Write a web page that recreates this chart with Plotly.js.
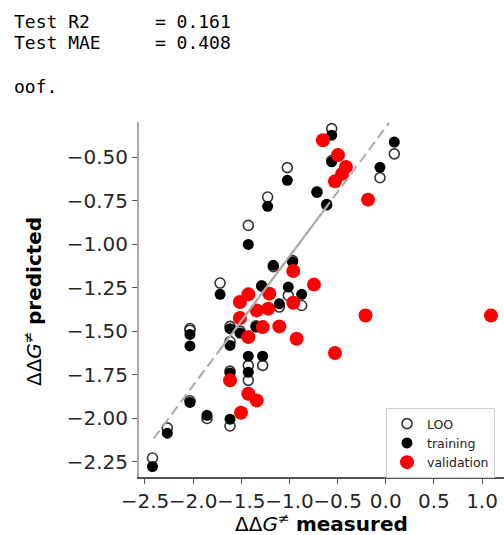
<!DOCTYPE html>
<html>
<head>
<meta charset="utf-8">
<script src="https://cdn.plot.ly/plotly-3.0.1.min.js"></script>
<style>html,body{margin:0;padding:0;background:#fff;}#chart{width:504px;height:535px;}</style>
</head>
<body>
<div id="chart"></div>
<script>
// LOO / training pairs share the measured value
const trainX = [-2.422,-2.268,-2.033,-1.856,-2.033,-2.033,-1.72,-1.617,-1.617,-1.513,-1.617,-1.617,-1.427,-1.226,-1.022,-1.168,-0.967,-1.288,-1.012,-0.873,-1.105,-1.347,-1.427,-1.278,-1.427,-0.561,-0.561,-0.714,-0.613,-0.060,0.089];
const trainY = [-2.278,-2.086,-1.910,-1.984,-1.519,-1.585,-1.289,-1.486,-1.582,-1.511,-1.740,-2.006,-1.002,-0.783,-0.634,-1.122,-1.103,-1.241,-1.247,-1.289,-1.343,-1.477,-1.644,-1.644,-1.736,-0.375,-0.528,-0.703,-0.772,-0.559,-0.414];
const looY   = [-2.229,-2.056,-1.900,-2.002,-1.485,-1.495,-1.224,-1.473,-1.560,-1.500,-1.730,-2.045,-0.893,-0.730,-0.561,-1.130,-1.095,-1.240,-1.295,-1.353,-1.362,-1.470,-1.697,-1.697,-1.783,-0.337,-0.520,-0.700,-0.775,-0.619,-0.482];
const validX = [-0.652,-0.496,-0.413,-0.454,-0.527,-0.184,-0.960,-0.745,-1.427,-1.209,-1.514,-0.960,-1.220,-1.340,-1.514,-1.278,-1.105,-1.427,-0.925,-0.210,1.093,-0.527,-1.617,-1.427,-1.340,-1.503];
const validY = [-0.404,-0.489,-0.557,-0.597,-0.640,-0.745,-1.155,-1.233,-1.289,-1.285,-1.333,-1.337,-1.371,-1.381,-1.425,-1.477,-1.473,-1.534,-1.544,-1.410,-1.410,-1.626,-1.783,-1.860,-1.898,-1.969];
const fitX = [-2.41, 0.034];
const fitY = [-2.117, -0.305];
const fitSolidX = [-1.72, -0.61];
const fitSolidY = [-1.605, -0.782];
const xTicks = [-2.5,-2.0,-1.5,-1.0,-0.5,0.0,0.5,1.0];
const xTickText = ['\u22122.5','\u22122.0','\u22121.5','\u22121.0','\u22120.5','0.0','0.5','1.0'];
const yTicks = [-2.25,-2.0,-1.75,-1.5,-1.25,-1.0,-0.75,-0.5];
const yTickText = ['\u22122.25','\u22122.00','\u22121.75','\u22121.50','\u22121.25','\u22121.00','\u22120.75','\u22120.50'];
const statsLines = ['Test R2      = 0.161', 'Test MAE     = 0.408', 'oof.'];
const xTitle = '\u0394\u0394<i>G</i><sup>\u2260</sup> <b>measured</b>';
const yTitle = '\u0394\u0394<i>G</i><sup>\u2260</sup> <b>predicted</b>';

const traces = [
  {x: trainX, y: looY, name: 'LOO', type: 'scatter', mode: 'markers',
   marker: {symbol: 'circle-open', size: 10, color: '#333', line: {width: 1.6, color: '#333'}}},
  {x: trainX, y: trainY, name: 'training', type: 'scatter', mode: 'markers',
   marker: {symbol: 'circle', size: 11, color: '#000'}},
  {x: validX, y: validY, name: 'validation', type: 'scatter', mode: 'markers',
   marker: {symbol: 'circle', size: 14, color: '#ff0000'}},
  {x: fitX, y: fitY, type: 'scatter', mode: 'lines', showlegend: false, hoverinfo: 'skip',
   line: {color: '#aaaaaa', width: 2, dash: '10px,5px'}},
  {x: fitSolidX, y: fitSolidY, type: 'scatter', mode: 'lines', showlegend: false, hoverinfo: 'skip',
   line: {color: '#aaaaaa', width: 2}}
];

const L = 139, T = 122, W = 504, H = 535, B = 58;
const pw = W - L, ph = H - T - B;
function px2paperX(p){ return (p - L) / pw; }
function py2paperY(p){ return (H - B - p) / ph; }
const mono = {family: 'DejaVu Sans Mono, monospace', size: 18, color: '#000'};
const statY = [21.5, 42, 87];
const annotations = statsLines.map((t, i) => ({
  text: t.replace(/ /g, '\u00a0'), xref: 'paper', yref: 'paper',
  x: px2paperX(12.4), y: py2paperY(statY[i]), xanchor: 'left', yanchor: 'middle',
  showarrow: false, font: mono
}));
const titleFont = {family: 'DejaVu Sans, sans-serif', size: 20, color: '#000'};
annotations.push({text: xTitle, xref: 'paper', yref: 'paper', x: px2paperX(321), y: py2paperY(523),
  xanchor: 'center', yanchor: 'middle', showarrow: false, font: titleFont});
annotations.push({text: yTitle, xref: 'paper', yref: 'paper', x: px2paperX(33), y: py2paperY(302),
  xanchor: 'center', yanchor: 'middle', textangle: -90, showarrow: false, font: titleFont});

const tickFont = {family: 'DejaVu Sans, sans-serif', size: 20, color: '#262626'};
const layout = {
  width: W, height: H,
  margin: {l: L, r: 0, t: T, b: B, pad: 0},
  paper_bgcolor: '#fff', plot_bgcolor: '#fff',
  showlegend: true,
  xaxis: {
    range: [-2.562, 1.228], tickvals: xTicks, ticktext: xTickText, tickangle: 0,
    showgrid: false, zeroline: false, showline: true, linecolor: '#555', linewidth: 1.5,
    ticks: 'outside', ticklen: 5, tickwidth: 1, tickcolor: '#555',
    tickfont: tickFont, automargin: false
  },
  yaxis: {
    range: [-2.338, -0.299], tickvals: yTicks, ticktext: yTickText,
    showgrid: false, zeroline: false, showline: true, linecolor: '#aaaaaa', linewidth: 2,
    ticks: 'outside', ticklen: 5, tickwidth: 1, tickcolor: '#555',
    tickfont: tickFont, automargin: false
  },
  legend: {
    x: px2paperX(386), y: py2paperY(408), xanchor: 'left', yanchor: 'top',
    bgcolor: '#fff', bordercolor: '#d0d0d0', borderwidth: 1,
    font: {family: 'DejaVu Sans, sans-serif', size: 12.5, color: '#222'},
    tracegroupgap: 0
  },
  annotations: annotations
};
Plotly.newPlot('chart', traces, layout, {staticPlot: true, displayModeBar: false});
</script>
</body>
</html>
